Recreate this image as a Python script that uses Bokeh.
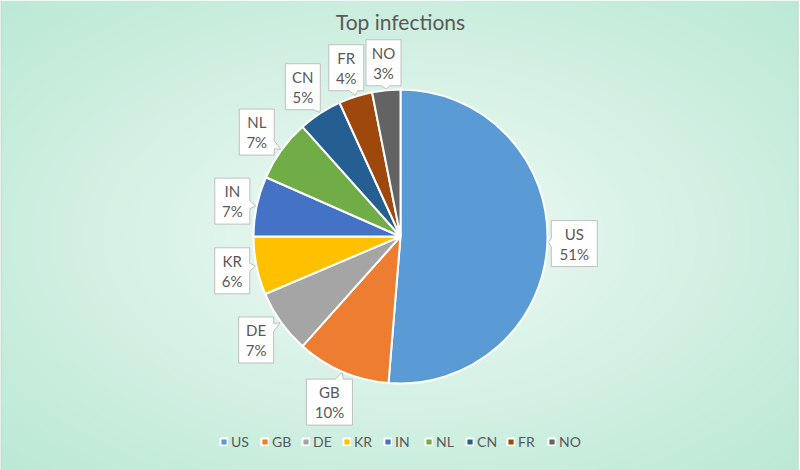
import numpy as np
from bokeh.plotting import figure
from bokeh.models import ColumnDataSource, Range1d
from bokeh.core.properties import value
from bokeh.embed import file_html
from bokeh.resources import INLINE

# ---- data ----
countries = ["US", "GB", "DE", "KR", "IN", "NL", "CN", "FR", "NO"]
shares = [51.3, 10.3, 7.0, 6.4, 6.6, 6.8, 4.8, 3.7, 3.1]
colors = ["#5B9BD5", "#ED7D31", "#A5A5A5", "#FFC000", "#4472C4",
          "#70AD47", "#255E91", "#9E480E", "#636363"]
title_text = "Top infections"

# ---- layout constants ----
W, H = 800, 470
CX, CY, R = 400, H - 236, 147
FONT = "Lato"
TXT = "#595959"

total = float(sum(shares))
fr = np.array(shares) / total
cum_end = np.cumsum(fr) * 2 * np.pi
cum_start = cum_end - fr * 2 * np.pi
start_ang = np.pi / 2 - cum_start
end_ang = np.pi / 2 - cum_end
mid_cw = (cum_start + cum_end) / 2
pct = [f"{int(round(f * 100))}%" for f in fr]

src = ColumnDataSource(dict(country=countries, share=shares, color=colors,
                            start=start_ang, end=end_ang))

p = figure(width=W, height=H, x_range=Range1d(0, W), y_range=Range1d(0, H),
           output_backend="svg", toolbar_location=None, min_border=0)
p.axis.visible = False
p.grid.visible = False
p.outline_line_color = None
p.background_fill_color = "white"
p.border_fill_color = "white"

# background radial gradient
gw, gh = 400, 235
gx = (np.arange(gw) + 0.5) / gw * 798
gy = (np.arange(gh) + 0.5) / gh * H
X, Y = np.meshgrid(gx, gy)
d = np.sqrt(((X - 400) / 400) ** 2 + ((Y - 235) / 235) ** 2) / np.sqrt(2)
d = np.clip(d, 0, 1)
c0 = np.array([246, 252, 249])
c1 = np.array([187, 233, 213])
img = np.zeros((gh, gw), dtype=np.uint32)
view = img.view(dtype=np.uint8).reshape((gh, gw, 4))
for k in range(3):
    view[:, :, k] = (c0[k] + (c1[k] - c0[k]) * d ** 0.85).astype(np.uint8)
view[:, :, 3] = 255
p.image_rgba(image=[img], x=0, y=0, dw=798, dh=H)
p.segment(x0=[0.5, 797.5], y0=[0, 0], x1=[0.5, 797.5], y1=[H, H],
          line_color="#D0D0D0", line_width=1)

# pie
p.wedge(x=CX, y=CY, radius=R, start_angle="start", end_angle="end",
        direction="clock", fill_color="color", line_color="white",
        line_width=2, source=src, legend_field="country")

# callout boxes
xs, ys, bx, by = [], [], [], []
for i, c in enumerate(countries):
    th = mid_cw[i]
    sx, sy = np.sin(th), np.cos(th)
    n = max(len(c), len(pct[i]))
    w = 13 + 11 * n
    h = 46
    dist = R + 3 + abs(sx) * w / 2 + abs(sy) * h / 2
    cx, cy = CX + dist * sx, CY + dist * sy
    tx, ty = CX + (R + 1) * sx, CY + (R + 1) * sy
    x0, x1, y0, y1 = cx - w / 2, cx + w / 2, cy - h / 2, cy + h / 2
    vx, vy = tx - cx, ty - cy
    tvx = (w / 2) / abs(vx) if abs(vx) > 1e-9 else 1e9
    tvy = (h / 2) / abs(vy) if abs(vy) > 1e-9 else 1e9
    bw = 4
    if tvx < tvy:
        t = tvx
        py = cy + t * vy
        a, b = min(max(py + bw, y0), y1), min(max(py - bw, y0), y1)
        if vx > 0:  # right edge
            pts = [(x0, y1), (x1, y1), (x1, a), (tx, ty), (x1, b), (x1, y0), (x0, y0)]
        else:  # left edge
            pts = [(x0, y1), (x1, y1), (x1, y0), (x0, y0), (x0, b), (tx, ty), (x0, a)]
    else:
        t = tvy
        px = cx + t * vx
        a, b = min(max(px - bw, x0), x1), min(max(px + bw, x0), x1)
        if vy > 0:  # top edge
            pts = [(x0, y1), (a, y1), (tx, ty), (b, y1), (x1, y1), (x1, y0), (x0, y0)]
        else:  # bottom edge
            pts = [(x0, y1), (x1, y1), (x1, y0), (b, y0), (tx, ty), (a, y0), (x0, y0)]
    xs.append([q[0] for q in pts])
    ys.append([q[1] for q in pts])
    bx.append(cx)
    by.append(cy)

p.patches(xs=xs, ys=ys, fill_color="white", line_color="#BFBFBF", line_width=1)
lab = ColumnDataSource(dict(x=bx, y1=[v + 10 for v in by], y2=[v - 10 for v in by],
                            name=countries, pct=pct))
p.text(x="x", y="y1", text="name", source=lab, text_align="center",
       text_baseline="middle", text_font=value(FONT), text_font_size="15px",
       text_color=TXT)
p.text(x="x", y="y2", text="pct", source=lab, text_align="center",
       text_baseline="middle", text_font=value(FONT), text_font_size="15px",
       text_color=TXT)

# title
p.text(x=[W / 2], y=[H - 21], text=[title_text], text_align="center",
       text_baseline="middle", text_font=value(FONT), text_font_size="21px",
       text_color=TXT)

# legend
lg = p.legend[0]
lg.orientation = "horizontal"
lg.location = "bottom_center"
lg.label_text_font = FONT
lg.label_text_font_size = "14px"
lg.label_text_color = TXT
lg.glyph_width = 9
lg.glyph_height = 9
lg.label_standoff = 3
lg.spacing = 9
lg.padding = 0
lg.margin = 20
lg.background_fill_alpha = 0
lg.border_line_alpha = 0

open("out.html", "w").write(file_html(p, INLINE))
